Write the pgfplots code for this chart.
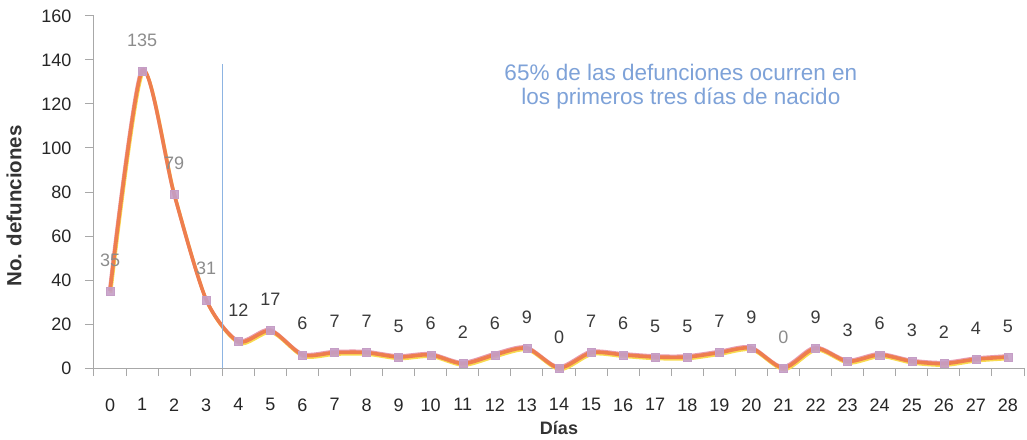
\documentclass[border=0pt]{standalone}
\usepackage{pgfplots}
\pgfplotsset{compat=1.18}
\usepackage{fontspec}
\setmainfont{Liberation Sans}
\definecolor{axgray}{HTML}{A8A8A8}
\definecolor{lineor}{HTML}{EE7E4E}
\definecolor{lineye}{HTML}{F8DA50}
\definecolor{linepk}{HTML}{E89AAE}
\definecolor{mk}{HTML}{C59EC6}
\definecolor{annblue}{HTML}{7EA2D8}
\definecolor{vblue}{HTML}{8DB4E2}
\definecolor{lbldark}{HTML}{3A3A3A}
\definecolor{lblgray}{HTML}{8C8C8C}
\pgfplotstableread{
d n
0 35
1 135
2 79
3 31
4 12
5 17
6 6
7 7
8 7
9 5
10 6
11 2
12 6
13 9
14 0
15 7
16 6
17 5
18 5
19 7
20 9
21 0
22 9
23 3
24 6
25 3
26 2
27 4
28 5
}\deaths
\pgfplotstableread{
d n
0 35
1 135
2 79
3 31
21 0
}\graylbl
\pgfplotstableread{
d n
4 12
5 17
6 6
7 7
8 7
9 5
10 6
11 2
12 6
13 9
14 0
15 7
16 6
17 5
18 5
19 7
20 9
22 9
23 3
24 6
25 3
26 2
27 4
28 5
}\darklbl
\begin{document}
\begin{tikzpicture}
\begin{axis}[
  /pgf/number format/assume math mode=true,
  scale only axis,
  width=930pt, height=352pt,
  xmin=-0.5, xmax=28.5, ymin=0, ymax=160,
  axis x line=bottom, axis y line=left,
  axis line style={axgray, line width=1pt, -},
  xtick={0,...,28},
  minor xtick={-0.5,0.5,...,28.5},
  major x tick style={draw=none},
  minor x tick style={axgray, line width=1pt},
  minor tick length=8pt,
  ytick={0,20,...,160},
  y tick style={axgray, line width=1pt},
  major tick length=9pt,
  tick align=outside,
  tick label style={font=\fontsize{18}{21}\selectfont, text=black!85},
  xticklabel shift=18pt,
  yticklabel shift=10pt,
  xlabel={\textbf{Días}},
  ylabel={\textbf{No. defunciones}},
  xlabel style={font=\fontsize{18}{21}\selectfont, text=black!80},
  ylabel style={font=\fontsize{20.5}{23}\selectfont, text=black!80, at={(ticklabel cs:0.46)}},
  xlabel shift=3pt,
  ylabel shift=13pt,
  clip=false,
]
\addplot[linepk, line width=3pt, smooth, tension=0.45, yshift=1.3pt, xshift=-0.6pt] table[x=d,y=n] {\deaths};
\addplot[lineye, line width=3pt, smooth, tension=0.45, yshift=-1.8pt, xshift=0.8pt] table[x=d,y=n] {\deaths};
\addplot[lineor, line width=3.6pt, smooth, tension=0.45] table[x=d,y=n] {\deaths};
\addplot[only marks, mark=square*, mark size=4pt, mark options={fill=mk, draw=mk, fill opacity=0.9}] table[x=d,y=n] {\deaths};
\addplot[draw=none, mark=none, nodes near coords,
  every node near coord/.style={anchor=center, yshift=31pt, text=lblgray, font=\fontsize{18}{21}\selectfont}] table[x=d,y=n] {\graylbl};
\addplot[draw=none, mark=none, nodes near coords,
  every node near coord/.style={anchor=center, yshift=31pt, text=lbldark, font=\fontsize{18}{21}\selectfont}] table[x=d,y=n] {\darklbl};
\addplot[vblue, line width=1.5pt] coordinates {(3.5,0) (3.5,138)};
\node[annblue, align=center, font=\fontsize{22.5}{24}\selectfont] at (axis cs:17.8,128) {65\% de las defunciones ocurren en\\los primeros tres días de nacido};
\coordinate (bl) at ([xshift=-94pt,yshift=-71pt]rel axis cs:0,0);
\coordinate (tr) at ([xshift=3pt,yshift=16pt]rel axis cs:1,1);
\end{axis}
\pgfresetboundingbox
\path[use as bounding box] (bl) rectangle (tr);
\end{tikzpicture}
\end{document}
